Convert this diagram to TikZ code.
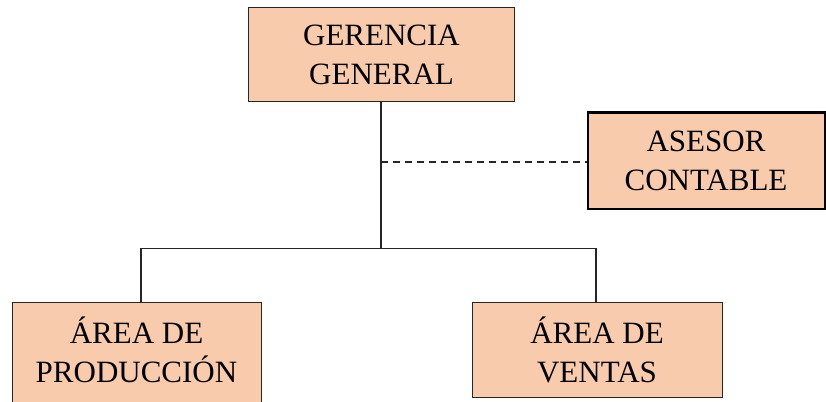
\documentclass[tikz,border=0pt]{standalone}
\usepackage{fontspec}
\setmainfont{Liberation Serif}
\definecolor{peach}{HTML}{F8CBAD}
\begin{document}
\begin{tikzpicture}[x=1pt,y=-1pt,
  box/.style={draw=black!85,fill=peach,line width=1pt,inner sep=0pt,align=center,
    font=\fontsize{31}{39}\selectfont},
  link/.style={draw=black!85,line width=1.2pt}]
\useasboundingbox (0,0) rectangle (826,401);
\clip (0,0) rectangle (826,401);
\node[box,minimum width=266pt,minimum height=94pt] (ger) at (381.5,55) {GERENCIA\\GENERAL};
\node[box,line width=2pt,draw=black,minimum width=237pt,minimum height=96pt] (ase) at (706,160.5) {ASESOR\\CONTABLE};
\node[box,minimum width=249pt,minimum height=110pt] (pro) at (136.5,357) {};
\node[font=\fontsize{31}{39}\selectfont,align=center,inner sep=0pt] (protxt) at (136.5,350) {ÁREA DE\\PRODUCCIÓN};
\node[box,minimum width=250pt,minimum height=95pt] (ven) at (597,349.5) {ÁREA DE\\VENTAS};
\coordinate (j) at (381,248.5);
\coordinate (d) at (381,162);
\coordinate (pl) at (141,248.5);
\coordinate (vr) at (596,248.5);
\draw[link] (ger.south -| j) -- (j);
\draw[link] (pro.north -| pl) -- (pl) -- (vr) -- (ven.north -| vr);
\draw[link,line width=1.5pt,dash pattern=on 7pt off 5pt] (d) -- (d -| ase.west);
\end{tikzpicture}
\end{document}
